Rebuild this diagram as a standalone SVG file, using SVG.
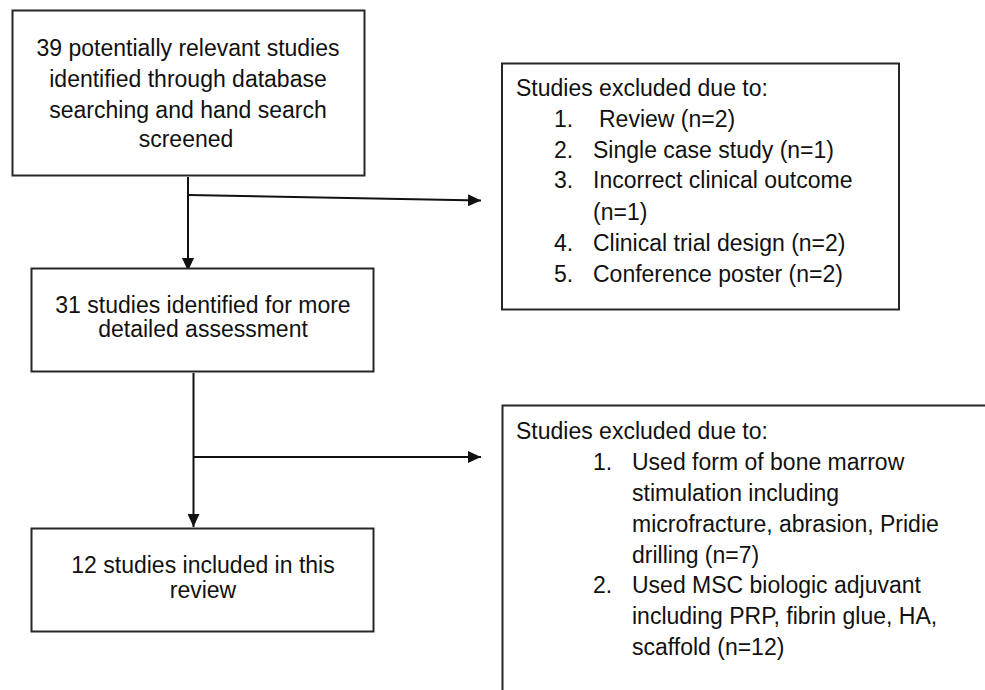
<svg xmlns="http://www.w3.org/2000/svg" width="985" height="690" viewBox="0 0 985 690">
<style>
.box{fill:#fff;stroke:#262626;stroke-width:2}
.t{font-family:"Liberation Sans",Arial,sans-serif;font-size:23px;fill:#111}
.c{text-anchor:middle}
.ln{fill:none;stroke:#111;stroke-width:2}
</style>
<defs>
<marker id="ah" markerWidth="14" markerHeight="12" refX="13" refY="6" orient="auto" markerUnits="userSpaceOnUse">
<path d="M0,0 L13,6 L0,12 Z" fill="#111"/>
</marker>
</defs>
<rect width="985" height="690" fill="#fff"/>
<g id="connectors">
<line class="ln" x1="188" y1="177" x2="188" y2="271" marker-end="url(#ah)"/>
<line class="ln" x1="188" y1="195" x2="481" y2="200.5" marker-end="url(#ah)"/>
<line class="ln" x1="193.5" y1="373" x2="193.5" y2="527" marker-end="url(#ah)"/>
<line class="ln" x1="193.5" y1="457" x2="481" y2="457" marker-end="url(#ah)"/>
</g>
<g id="n1">
<rect class="box" x="12.5" y="10.5" width="352" height="165"/>
<text class="t c" x="188" y="56">39 potentially relevant studies</text>
<text class="t c" x="188" y="87">identified through database</text>
<text class="t c" x="188" y="118">searching and hand search</text>
<text class="t c" x="186" y="147">screened</text>
</g>
<g id="n2">
<rect class="box" x="31.5" y="268.5" width="342" height="103"/>
<text class="t c" x="203" y="313">31 studies identified for more</text>
<text class="t c" x="203" y="337">detailed assessment</text>
</g>
<g id="n3">
<rect class="box" x="31.5" y="528.5" width="342" height="103"/>
<text class="t c" x="203" y="573">12 studies included in this</text>
<text class="t c" x="203" y="598">review</text>
</g>
<g id="n4">
<rect class="box" x="502" y="63.5" width="397" height="246"/>
<text class="t" x="516" y="96">Studies excluded due to:</text>
<text class="t" x="554" y="127">1.</text><text class="t" x="599" y="127">Review (n=2)</text>
<text class="t" x="554" y="158">2.</text><text class="t" x="593" y="158">Single case study (n=1)</text>
<text class="t" x="554" y="188">3.</text><text class="t" x="593" y="188">Incorrect clinical outcome</text>
<text class="t" x="593" y="220">(n=1)</text>
<text class="t" x="554" y="251">4.</text><text class="t" x="593" y="251">Clinical trial design (n=2)</text>
<text class="t" x="554" y="282">5.</text><text class="t" x="593" y="282">Conference poster (n=2)</text>
</g>
<g id="n5">
<path class="box" d="M502.5,700 L502.5,405.5 L995,405.5"/>
<text class="t" x="516" y="439">Studies excluded due to:</text>
<text class="t" x="593" y="470">1.</text><text class="t" x="632" y="470">Used form of bone marrow</text>
<text class="t" x="632" y="501">stimulation including</text>
<text class="t" x="632" y="532">microfracture, abrasion, Pridie</text>
<text class="t" x="632" y="563">drilling (n=7)</text>
<text class="t" x="593" y="593">2.</text><text class="t" x="632" y="593">Used MSC biologic adjuvant</text>
<text class="t" x="632" y="624">including PRP, fibrin glue, HA,</text>
<text class="t" x="632" y="655">scaffold (n=12)</text>
</g>
</svg>
